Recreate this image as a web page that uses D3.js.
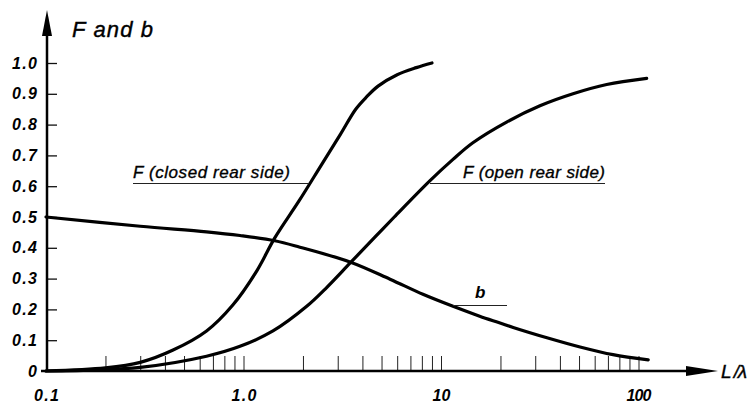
<!DOCTYPE html>
<html>
<head>
<meta charset="utf-8">
<script src="https://cdn.jsdelivr.net/npm/d3@7"></script>
<style>
  html, body { margin: 0; padding: 0; background: #fff; }
  svg { display: block; }
  text { font-family: "Liberation Sans", Arial, Helvetica, sans-serif; fill: #000; }
</style>
</head>
<body>
<svg id="chart" width="748" height="404"></svg>
<script>
// ---- data ----
const closedL = [0.1, 0.2, 0.3, 0.44, 0.65, 0.885, 1.17, 1.44, 1.91, 2.49, 3.1, 3.7, 4.2, 4.8, 6.0, 7.5, 9.0];
const closedF = [0, 0.01, 0.028, 0.068, 0.13, 0.215, 0.326, 0.432, 0.552, 0.671, 0.769, 0.85, 0.89, 0.925, 0.962, 0.985, 1.0];

const openL = [0.1, 0.3, 0.65, 0.96, 1.41, 2.09, 2.6, 3.46, 4.6, 5.8, 8.8, 11.5, 14.5, 21.6, 31.7, 46.6, 69, 110];
const openF = [0, 0.012, 0.048, 0.08, 0.13, 0.21, 0.267, 0.35, 0.433, 0.5, 0.618, 0.687, 0.741, 0.809, 0.861, 0.9, 0.93, 0.95];

const bL = [0.1, 0.3, 0.65, 0.96, 1.44, 1.93, 3.46, 5.52, 8.1, 11.5, 15.7, 19.9, 23.2, 34.4, 50.6, 74.3, 112];
const bV = [0.5, 0.47, 0.452, 0.44, 0.423, 0.402, 0.354, 0.298, 0.249, 0.21, 0.178, 0.156, 0.1415, 0.108, 0.078, 0.053, 0.036];

const xTickValues = [0.2,0.3,0.4,0.5,0.6,0.7,0.8,0.9,1,2,3,4,5,6,7,8,9,10,20,30,40,50,60,70,80,90,100];
const xLabelValues = [0.1, 1, 10, 100];
const xLabels = ["0.1", "1.0", "10", "100"];
const yTickValues = [0.1,0.2,0.3,0.4,0.5,0.6,0.7,0.8,0.9,1.0];
const yLabelValues = [0,0.1,0.2,0.3,0.4,0.5,0.6,0.7,0.8,0.9,1.0];

// ---- scales ----
const x = d3.scaleLog().domain([0.1, 100]).range([46, 638.5]);
const y = d3.scaleLinear().domain([0, 1]).range([371, 63]);

const svg = d3.select("#chart");

// x ticks (upward)
const gxt = svg.append("g").attr("transform", `translate(0,${y(0)})`)
  .call(d3.axisBottom(x).tickValues(xTickValues).tickSizeInner(-15).tickSizeOuter(0).tickFormat(""));
gxt.select(".domain").remove();
gxt.selectAll(".tick line").attr("stroke", "#222").attr("stroke-width", 1);

// x labels
const gxl = svg.append("g").attr("transform", `translate(0,${y(0)})`)
  .call(d3.axisBottom(x).tickValues(xLabelValues).tickSize(0).tickPadding(19)
        .tickFormat((d, i) => xLabels[i]));
gxl.select(".domain").remove();
gxl.selectAll(".tick text")
  .style("font-family", '"Liberation Sans", Arial, sans-serif')
  .style("font-size", "16px").style("font-weight", "bold").style("font-style", "italic")
  .attr("fill", "#000")
  .attr("textLength", (d, i) => xLabels[i].length === 3 ? 25 : 18)
  .attr("lengthAdjust", "spacing");

// y ticks (rightward)
const gyt = svg.append("g").attr("transform", `translate(${x(0.1) + 1},0)`)
  .call(d3.axisRight(y).tickValues(yTickValues).tickSizeInner(10).tickSizeOuter(0).tickFormat(""));
gyt.select(".domain").remove();
gyt.selectAll(".tick line").attr("stroke", "#111").attr("stroke-width", 1.3);

// y labels
const gyl = svg.append("g").attr("transform", `translate(37,0)`)
  .call(d3.axisLeft(y).tickValues(yLabelValues).tickSize(0).tickPadding(0)
        .tickFormat(d => d === 0 ? "0" : d3.format(".1f")(d)));
gyl.select(".domain").remove();
gyl.selectAll(".tick text")
  .style("font-family", '"Liberation Sans", Arial, sans-serif')
  .style("font-size", "16px").style("font-weight", "bold").style("font-style", "italic")
  .attr("fill", "#000")
  .each(function(d) { if (d !== 0) d3.select(this).attr("textLength", 25).attr("lengthAdjust", "spacing"); });

// axes lines with arrows
const x0 = x(0.1) + 1, y0 = y(0);
svg.append("line").attr("x1", 41).attr("x2", 690).attr("y1", y0).attr("y2", y0)
  .attr("stroke", "#000").attr("stroke-width", 2.5);
svg.append("path").attr("d", `M686,${y0 - 5}L718,${y0}L686,${y0 + 5}Z`).attr("fill", "#000");
svg.append("line").attr("x1", x0).attr("x2", x0).attr("y1", y0 + 1).attr("y2", 32)
  .attr("stroke", "#000").attr("stroke-width", 2.5);
svg.append("path").attr("d", `M${x0 - 5},36L${x0},10L${x0 + 5},36Z`).attr("fill", "#000");

// axis titles
svg.append("text").attr("x", 72).attr("y", 37).text("F and b")
  .style("font-size", "22px").style("font-style", "italic")
  .attr("stroke", "#000").attr("stroke-width", 0.4)
  .attr("textLength", 81).attr("lengthAdjust", "spacing");
svg.append("text").attr("x", 721).attr("y", 378).text("L /λ")
  .style("font-size", "19px").style("font-style", "italic")
  .attr("stroke", "#000").attr("stroke-width", 0.4)
  .attr("textLength", 26).attr("lengthAdjust", "spacing");

// curves
const line = d3.line().x(d => x(d[0])).y(d => y(d[1])).curve(d3.curveCatmullRom.alpha(0.5));
const series = [
  d3.zip(closedL, closedF),
  d3.zip(openL, openF),
  d3.zip(bL, bV)
];
svg.append("g").selectAll("path").data(series).join("path")
  .attr("d", line).attr("fill", "none").attr("stroke", "#000")
  .attr("stroke-width", 3.2).attr("stroke-linecap", "round").attr("stroke-linejoin", "round");

// curve labels with underlines
const lab = (tx, ty, txt, len, lx1, lx2, ly, fs) => {
  svg.append("text").attr("x", tx).attr("y", ty).text(txt)
    .style("font-size", fs + "px").style("font-style", "italic")
    .attr("stroke", "#000").attr("stroke-width", 0.35)
    .attr("textLength", len).attr("lengthAdjust", "spacing");
  svg.append("line").attr("x1", lx1).attr("x2", lx2).attr("y1", ly).attr("y2", ly)
    .attr("stroke", "#222").attr("stroke-width", 1);
};
lab(133, 178, "F (closed rear side)", 157, 133, 308, 183.5, 17);
lab(463, 178, "F (open rear side)", 142, 430, 605, 183.5, 17);
svg.append("text").attr("x", 475).attr("y", 298).text("b")
  .style("font-size", "17px").style("font-style", "italic").style("font-weight", "bold");
svg.append("line").attr("x1", 453).attr("x2", 507).attr("y1", 305.5).attr("y2", 305.5)
  .attr("stroke", "#222").attr("stroke-width", 1);
</script>
</body>
</html>
